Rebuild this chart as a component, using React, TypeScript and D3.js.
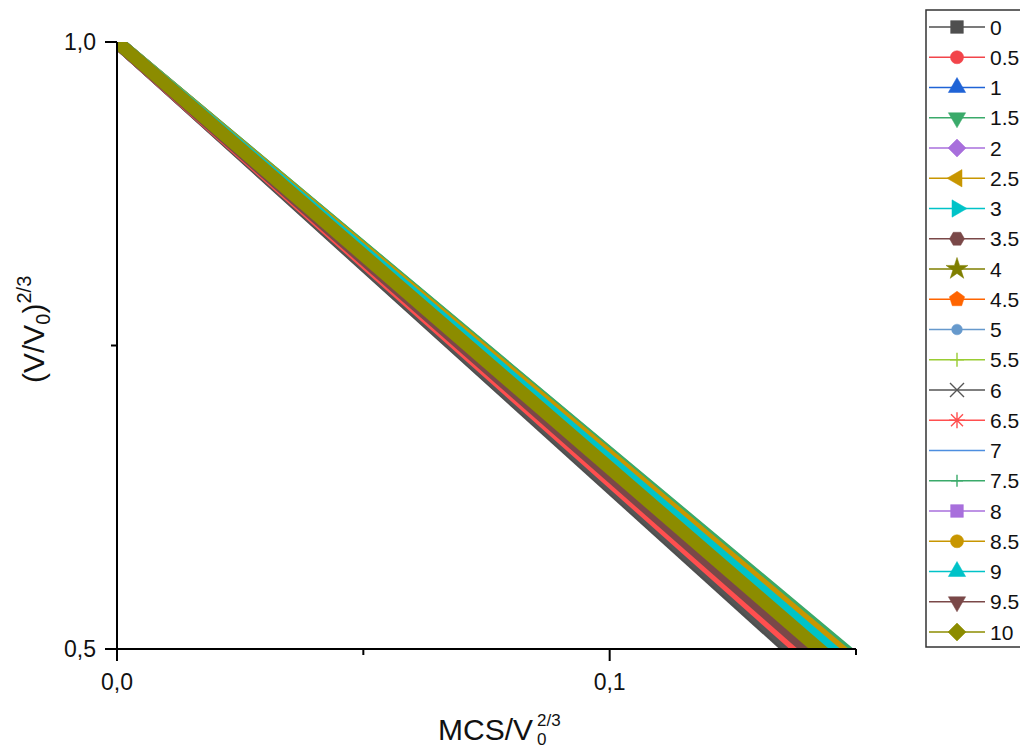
import React from "react";
import * as d3 from "d3";

// ---- data ----
const seriesNames = ["0","0.5","1","1.5","2","2.5","3","3.5","4","4.5","5","5.5","6","6.5","7","7.5","8","8.5","9","9.5","10"];
// each series runs from (0, 1.0) down to (xAtHalf, 0.5)
const xStart = [0,0,0,0,0,0,0,0,0,0,0,0,0,0,0,0,0,0,0,0,0];
const yStart = [1,1,1,1,1,1,1,1,1,1,1,1,1,1,1,1,1,1,1,1,1];
const xAtHalf = [0.1364,0.1378,0.1395,0.1475,0.1390,0.1462,0.1452,0.1400,0.1440,0.1410,0.1405,0.1470,0.1372,0.1385,0.1415,0.1472,0.1455,0.1465,0.1448,0.1402,0.1425];
const yEnd = [0.5,0.5,0.5,0.5,0.5,0.5,0.5,0.5,0.5,0.5,0.5,0.5,0.5,0.5,0.5,0.5,0.5,0.5,0.5,0.5,0.5];
const colors = ["#4f4f4f","#f2444a","#1f63d6","#3aaa6a","#a86fdc","#c89600","#00c3c8","#7a4848","#7f7f00","#ff6400","#6699cc","#99cc33","#555555","#ff4f4f","#4d8ee0","#3aaa6a","#a86fdc","#c89600","#00c3c8","#7a4848","#8c8c00"];
const markers = ["square","circle","triUp","triDown","diamond","triLeft","triRight","hexagon","star","pentagon","smallCircle","plus","cross","asterisk","none","thinPlus","square","circle","triUp","triDown","diamond"];
const xMajorTicks = [0, 0.1];
const xMinorTicks = [0.05, 0.15];
const xTickLabels = ["0,0", "0,1"];
const yMajorTicks = [1.0, 0.5];
const yMinorTicks = [0.75];
const yTickLabels = ["1,0", "0,5"];

// ---- layout ----
const W = 1020, H = 751;
const X0 = 117, X1 = 856, Y0 = 42, Y1 = 649;

function poly(n: number, R: number, rotDeg: number) {
  const pts: string[] = [];
  for (let i = 0; i < n; i++) {
    const a = (rotDeg + (360 / n) * i) * Math.PI / 180;
    pts.push(`${(R * Math.cos(a)).toFixed(2)},${(R * Math.sin(a)).toFixed(2)}`);
  }
  return "M" + pts.join("L") + "Z";
}

function Marker({ kind, color }: { kind: string; color: string }) {
  const strokeKinds: Record<string, string> = {
    plus: "M-7,0H7M0,-7V7",
    thinPlus: "M-6,0H6M0,-6V6",
    cross: "M-7,-7L7,7M-7,7L7,-7",
    asterisk: "M-8,0H8M0,-8V8M-6,-6L6,6M-6,6L6,-6",
  };
  if (kind === "none") return null;
  if (strokeKinds[kind]) {
    return <path d={strokeKinds[kind]} stroke={color} strokeWidth={1.4} fill="none" />;
  }
  let d = "";
  switch (kind) {
    case "square": d = poly(4, 9, 45); break;
    case "circle": d = d3.symbol().type(d3.symbolCircle).size(135)() as string; break;
    case "smallCircle": d = d3.symbol().type(d3.symbolCircle).size(90)() as string; break;
    case "triUp": d = poly(3, 10, -90); break;
    case "triDown": d = poly(3, 10, 90); break;
    case "triLeft": d = poly(3, 10, 180); break;
    case "triRight": d = poly(3, 10, 0); break;
    case "diamond": d = poly(4, 9, -90); break;
    case "hexagon": d = poly(6, 7.5, 0); break;
    case "pentagon": d = poly(5, 8, -90); break;
    case "star": d = d3.symbol().type(d3.symbolStar).size(150)() as string; break;
  }
  return <path d={d} fill={color} stroke={color} strokeWidth={0.5} />;
}

export default function App() {
  const x = d3.scaleLinear().domain([0, 0.15]).range([X0, X1]);
  const y = d3.scaleLinear().domain([0.5, 1.0]).range([Y1, Y0]);
  const line = d3.line<[number, number]>().x(d => x(d[0])).y(d => y(d[1]));
  const font = "Arial, 'Liberation Sans', sans-serif";
  const ink = "#111";

  return (
    <svg width={W} height={H} style={{ position: "absolute", left: 0, top: 0, background: "#fff" }} fontFamily={font}>
      <defs>
        <clipPath id="plotclip">
          <rect x={X0} y={Y0} width={X1 - X0} height={Y1 - Y0} />
        </clipPath>
      </defs>
      <rect width={W} height={H} fill="#fff" />
      <g clipPath="url(#plotclip)">
        {seriesNames.map((n, i) => (
          <g key={n}>
            <path
              d={line([[xStart[i], yStart[i]], [xAtHalf[i], yEnd[i]]]) as string}
              stroke={colors[i]}
              strokeWidth={13}
              strokeLinecap="square"
              fill="none"
            />
          </g>
        ))}
      </g>
      {/* axes */}
      <g stroke="#000" strokeWidth={2}>
        <line x1={X0} y1={Y0} x2={X0} y2={Y1 + 1} />
        <line x1={X0 - 1} y1={Y1} x2={X1} y2={Y1} />
        {yMajorTicks.map(t => <line key={"ym" + t} x1={X0 - 12} x2={X0} y1={y(t)} y2={y(t)} />)}
        {yMinorTicks.map(t => <line key={"yn" + t} x1={X0 - 6} x2={X0} y1={y(t)} y2={y(t)} />)}
        {xMajorTicks.map(t => <line key={"xm" + t} x1={x(t)} x2={x(t)} y1={Y1} y2={Y1 + 12} />)}
        {xMinorTicks.map(t => <line key={"xn" + t} x1={x(t)} x2={x(t)} y1={Y1} y2={Y1 + 6} />)}
      </g>
      {yMajorTicks.map((t, i) => (
        <text key={"yl" + t} x={X0 - 21} y={y(t) + 8} textAnchor="end" fontSize={23} fill={ink}>{yTickLabels[i]}</text>
      ))}
      {xMajorTicks.map((t, i) => (
        <text key={"xl" + t} x={x(t)} y={690} textAnchor="middle" fontSize={23} fill={ink}>{xTickLabels[i]}</text>
      ))}
      {/* x title: subscript 0 and superscript 2/3 stacked */}
      <text x={438} y={740} fontSize={30} fill={ink}>
        MCS/V
        <tspan x={537} y={745} fontSize={17}>0</tspan>
        <tspan x={537} y={726} fontSize={17}>2/3</tspan>
      </text>
      {/* y title */}
      <g transform="translate(44,383) rotate(-90)">
        <text x={0} y={0} fontSize={30} fill={ink}>
          (V/V<tspan fontSize={20} dy={6}>0</tspan><tspan dy={-6}>)</tspan><tspan fontSize={20} dy={-13}>2/3</tspan>
        </text>
      </g>
      {/* legend */}
      <rect x={926} y={10} width={110} height={637} fill="#fff" stroke="#333" strokeWidth={1.5} />
      {seriesNames.map((n, i) => {
        const cy = 27 + i * 30.25;
        return (
          <g key={"lg" + n} transform={`translate(0,${cy})`}>
            <line x1={929} x2={985} y1={0} y2={0} stroke={colors[i]} strokeWidth={1.5} />
            <g transform="translate(957,0)">
              <Marker kind={markers[i]} color={colors[i]} />
            </g>
            <text x={990} y={7.5} fontSize={21} fill={ink}>{n}</text>
          </g>
        );
      })}
    </svg>
  );
}
